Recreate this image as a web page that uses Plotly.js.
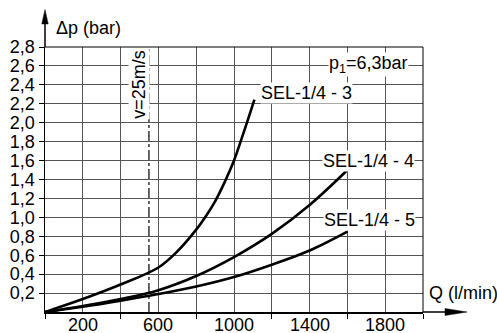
<!DOCTYPE html>
<html>
<head>
<meta charset="utf-8">
<script src="https://cdn.plot.ly/plotly-3.0.1.min.js"></script>
<style>html,body{margin:0;padding:0;background:#fff;}#chart{width:497px;height:333px;}</style>
</head>
<body>
<div id="chart"></div>
<script>
// Flow Q (l/min) and pressure drop (bar)
const q3 = [0, 200, 400, 600, 700, 800, 850, 900, 950, 1000, 1050, 1108];
const dp3 = [0, 0.137, 0.29, 0.47, 0.64, 0.87, 1.01, 1.17, 1.37, 1.6, 1.89, 2.245];
const q4 = [0, 200, 400, 600, 800, 1000, 1200, 1400, 1600];
const dp4 = [0, 0.063, 0.137, 0.23, 0.38, 0.58, 0.825, 1.13, 1.50];
const q5 = [0, 200, 400, 600, 800, 1000, 1200, 1400, 1600];
const dp5 = [0, 0.056, 0.12, 0.19, 0.27, 0.37, 0.50, 0.65, 0.85];
const seriesNames = ['SEL-1/4 - 3', 'SEL-1/4 - 4', 'SEL-1/4 - 5'];
const vLimitQ = 550; // v = 25 m/s
const vLimitLabel = 'v=25m/s';
const pressureLabel = 'p<sub>1</sub>=6,3bar';
const xTickVals = [200, 600, 1000, 1400, 1800];
const xTickText = ['200', '600', '1000', '1400', '1800'];
const xMinorVals = [0, 400, 800, 1200, 1600, 2000];
const yTickVals = [0.2, 0.4, 0.6, 0.8, 1.0, 1.2, 1.4, 1.6, 1.8, 2.0, 2.2, 2.4, 2.6, 2.8];
const yTickText = ['0,2', '0,4', '0,6', '0,8', '1,0', '1,2', '1,4', '1,6', '1,8', '2,0', '2,2', '2,4', '2,6', '2,8'];

const FONT = 'Liberation Sans, Arial, sans-serif';
const lineStyle = {color: '#000', width: 2.6, shape: 'spline', smoothing: 1};

const data = [
  {x: q3, y: dp3, mode: 'lines', line: lineStyle, name: seriesNames[0], hoverinfo: 'skip'},
  {x: q4, y: dp4, mode: 'lines', line: lineStyle, name: seriesNames[1], hoverinfo: 'skip'},
  {x: q5, y: dp5, mode: 'lines', line: lineStyle, name: seriesNames[2], hoverinfo: 'skip'}
];

const lbl = (text, x, y, extra) => Object.assign({
  text: text, x: x, y: y, xref: 'x', yref: 'y', showarrow: false,
  font: {family: FONT, size: 18, color: '#000'}, bgcolor: '#fff', borderpad: 0,
  xanchor: 'center', yanchor: 'middle'
}, extra || {});

const GRID = '#555';

// x tick labels drawn as annotations so they sit close to the axis like the reference
const xTickAnnotations = xTickVals.map((v, i) => ({
  text: xTickText[i], x: v, y: 0, xref: 'x', yref: 'paper', showarrow: false,
  xanchor: 'center', yanchor: 'top', yshift: -2, borderpad: 0,
  font: {family: FONT, size: 18, color: '#000'}
}));

const layout = {
  width: 497, height: 333,
  margin: {l: 45, r: 74, t: 47, b: 21},
  paper_bgcolor: '#fff', plot_bgcolor: '#fff',
  showlegend: false,
  font: {family: FONT, size: 18, color: '#000'},
  xaxis: {
    range: [0, 2000], tickmode: 'array', tickvals: xTickVals, ticktext: xTickText,
    showticklabels: false,
    showgrid: true, gridcolor: GRID, gridwidth: 1, zeroline: false,
    showline: true, linecolor: '#000', linewidth: 1.5,
    ticks: '',
    minor: {tickmode: 'array', tickvals: xMinorVals, showgrid: true, gridcolor: GRID, gridwidth: 1,
            ticks: 'outside', ticklen: 5, tickcolor: '#000', tickwidth: 1},
    fixedrange: true
  },
  yaxis: {
    range: [0, 2.8], tickmode: 'array', tickvals: yTickVals, ticktext: yTickText,
    showgrid: true, gridcolor: GRID, gridwidth: 1, zeroline: false,
    showline: true, linecolor: '#000', linewidth: 1.5,
    ticks: 'outside', ticklen: 5, tickcolor: '#000', tickwidth: 1,
    tickfont: {family: FONT, size: 18, color: '#000'}, fixedrange: true
  },
  shapes: [
    {type: 'line', xref: 'paper', yref: 'paper', x0: 0, x1: 1, y0: 1, y1: 1, line: {color: '#000', width: 1}},
    {type: 'line', xref: 'paper', yref: 'paper', x0: 1, x1: 1, y0: 0, y1: 1, line: {color: '#000', width: 1}},
    {type: 'line', xref: 'x', yref: 'paper', x0: vLimitQ, x1: vLimitQ, y0: 0, y1: 1,
     line: {color: '#000', width: 1.2, dash: '10px,3px,3px,3px'}},
    {type: 'line', xref: 'paper', yref: 'paper', x0: 0, x1: 0, y0: 1, y1: 1.1, line: {color: '#000', width: 1.5}},
    {type: 'path', xref: 'paper', yref: 'paper', path: 'M 0 1.141 L 0.0085 1.087 L -0.0085 1.087 Z',
     fillcolor: '#000', line: {color: '#000', width: 0.5}},
    {type: 'line', xref: 'paper', yref: 'paper', x0: 1, x1: 1.08, y0: 0, y1: 0, line: {color: '#000', width: 1.5}},
    {type: 'path', xref: 'paper', yref: 'paper', path: 'M 1.1164 0 L 1.0582 0.0132 L 1.0582 -0.0132 Z',
     fillcolor: '#000', line: {color: '#000', width: 0.5}}
  ],
  annotations: [
    {text: 'Δp (bar)', xref: 'paper', yref: 'paper', x: 0.025, y: 1.07, xanchor: 'left', yanchor: 'middle',
     showarrow: false, font: {family: FONT, size: 18, color: '#000'}},
    {text: 'Q (l/min)', xref: 'paper', yref: 'paper', x: 1.01, y: 0.07, xanchor: 'left', yanchor: 'middle',
     showarrow: false, font: {family: FONT, size: 18, color: '#000'}},
    lbl(vLimitLabel, 497, 2.41, {textangle: -90}),
    lbl(pressureLabel, 1709, 2.617),
    lbl(seriesNames[0], 1381, 2.31),
    lbl(seriesNames[1], 1709, 1.60),
    lbl(seriesNames[2], 1717, 0.97)
  ].concat(xTickAnnotations)
};

Plotly.newPlot('chart', data, layout, {staticPlot: true, displayModeBar: false});
</script>
</body>
</html>
